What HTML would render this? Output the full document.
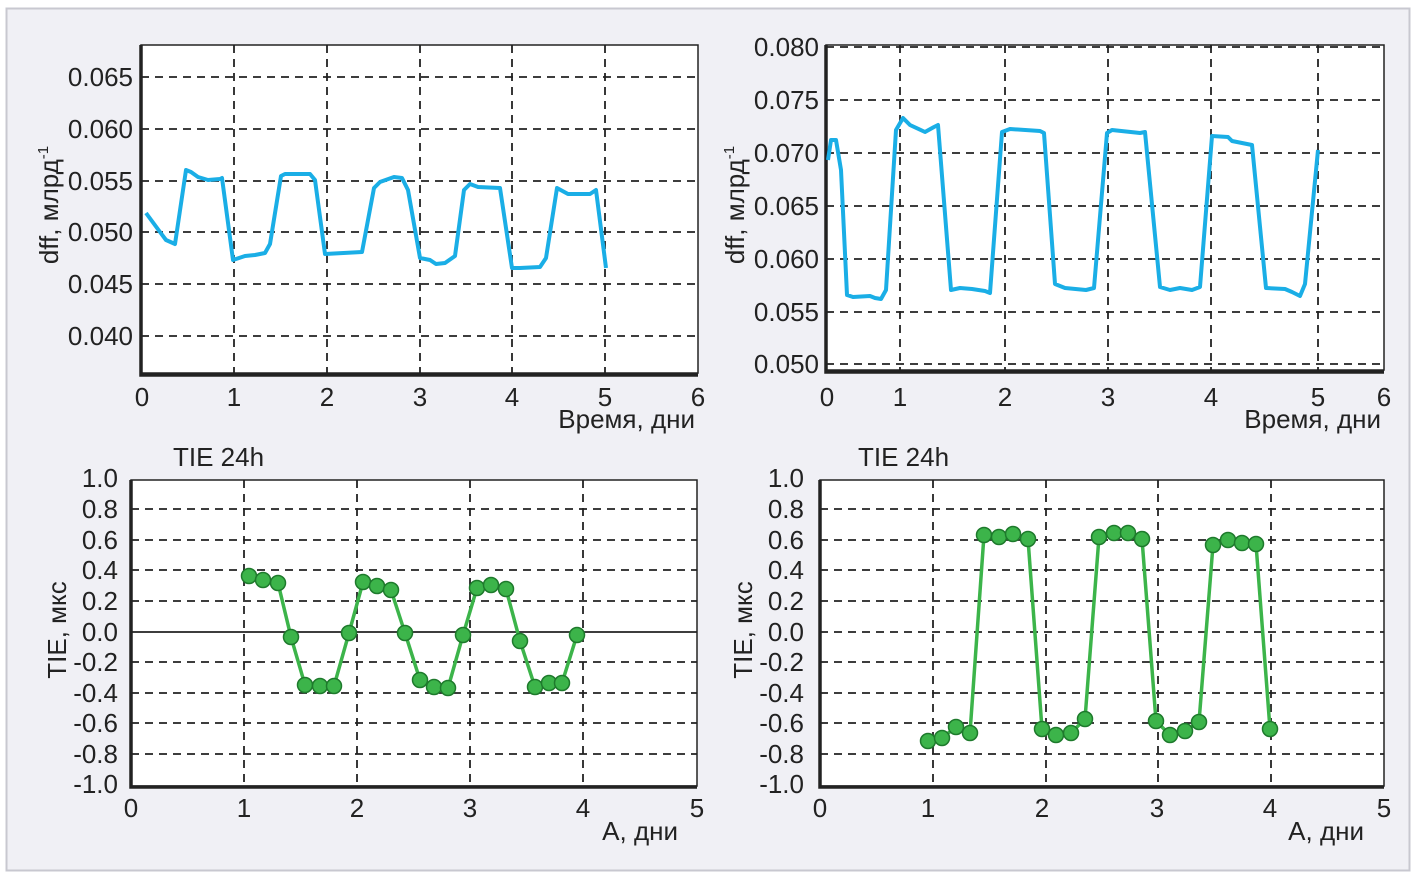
<!DOCTYPE html>
<html><head><meta charset="utf-8"><style>
html,body{margin:0;padding:0;background:#fff;}
svg{display:block;}
text{font-family:"Liberation Sans Narrow","Liberation Sans",sans-serif;fill:#222;}
</style></head><body>
<svg width="1416" height="877" viewBox="0 0 1416 877" xmlns="http://www.w3.org/2000/svg">
<rect x="0" y="0" width="1416" height="877" fill="#fff"/>
<rect x="6.5" y="8.5" width="1403" height="862" fill="#f0f0f5" stroke="#c8c8d0" stroke-width="2"/>
<g font-size="26">
<!-- TL -->
<rect x="141" y="45" width="557" height="328" fill="#fff" stroke="#222" stroke-width="1.5"/>
<g stroke="#222" stroke-width="1.8" stroke-dasharray="8,6" fill="none">
<path d="M141 77H698M141 129H698M141 181H698M141 232H698M141 284H698M141 336H698"/>
<path d="M234 45V373M327 45V373M420 45V373M512 45V373M605 45V373"/>
</g>
<path d="M141 45V375H698" stroke="#222" stroke-width="3.5" fill="none"/>
<polyline fill="none" stroke="#1aaee6" stroke-width="4" stroke-linejoin="round" points="146,213 160,232 166,240 175,244 186,170 191,172 198,177 208,180 220,179 222,178 233,260 245,256 255,255 265,253 270,244 281,176 285,174 310,174 315,180 325,254 362,252 374,188 380,182 394,177 402,178 408,190 420,258 430,260 436,264 445,263 455,256 464,190 470,184 478,187 500,188 512,268 520,268 540,267 546,258 557,188 568,194 590,194 596,190 606,268"/>
<g text-anchor="end">
<text x="133" y="86">0.065</text><text x="133" y="138">0.060</text><text x="133" y="190">0.055</text><text x="133" y="241">0.050</text><text x="133" y="293">0.045</text><text x="133" y="345">0.040</text>
</g>
<g text-anchor="middle">
<text x="142" y="406">0</text><text x="234" y="406">1</text><text x="327" y="406">2</text><text x="420" y="406">3</text><text x="512" y="406">4</text><text x="605" y="406">5</text><text x="698" y="406">6</text>
</g>
<text x="695" y="428" text-anchor="end">Время, дни</text>
<text transform="translate(58,205) rotate(-90)" text-anchor="middle">dff, млрд<tspan font-size="15" dy="-10">-1</tspan></text>

<!-- TR -->
<rect x="826" y="45" width="558" height="325" fill="#fff" stroke="#222" stroke-width="1.5"/>
<g stroke="#222" stroke-width="1.8" stroke-dasharray="8,6" fill="none">
<path d="M826 47H1384M826 100H1384M826 153H1384M826 206H1384M826 259H1384M826 312H1384M826 364H1384"/>
<path d="M900 45V370M1005 45V370M1108 45V370M1211 45V370M1318 45V370"/>
</g>
<path d="M826 45V372H1384" stroke="#222" stroke-width="3.5" fill="none"/>
<polyline fill="none" stroke="#1aaee6" stroke-width="4" stroke-linejoin="round" points="828,160 831,140 836,140 841,170 847,295 853,297 870,296 875,298 881,299 886,290 896,130 903,118 910,125 925,132 934,127 938,125 951,290 960,288 972,289 985,291 990,293 1002,132 1010,129 1040,131 1044,133 1055,284 1065,288 1086,290 1094,288 1107,133 1112,130 1140,133 1145,132 1160,287 1170,290 1180,288 1192,290 1200,287 1212,136 1228,137 1232,141 1252,145 1266,288 1285,289 1292,292 1300,296 1305,284 1318,150"/>
<g text-anchor="end">
<text x="819" y="56">0.080</text><text x="819" y="109">0.075</text><text x="819" y="162">0.070</text><text x="819" y="215">0.065</text><text x="819" y="268">0.060</text><text x="819" y="321">0.055</text><text x="819" y="373">0.050</text>
</g>
<g text-anchor="middle">
<text x="827" y="406">0</text><text x="900" y="406">1</text><text x="1005" y="406">2</text><text x="1108" y="406">3</text><text x="1211" y="406">4</text><text x="1318" y="406">5</text><text x="1384" y="406">6</text>
</g>
<text x="1381" y="428" text-anchor="end">Время, дни</text>
<text transform="translate(744,205) rotate(-90)" text-anchor="middle">dff, млрд<tspan font-size="15" dy="-10">-1</tspan></text>

<!-- BL -->
<text x="173" y="466">TIE 24h</text>
<rect x="131" y="480" width="566" height="306" fill="#fff" stroke="#222" stroke-width="1.5"/>
<g stroke="#222" stroke-width="1.8" stroke-dasharray="8,6" fill="none">
<path d="M131 509H697M131 540H697M131 570H697M131 601H697M131 662H697M131 693H697M131 723H697M131 754H697"/>
<path d="M244 480V786M357 480V786M470 480V786M583 480V786"/>
</g>
<path d="M131 632H697" stroke="#222" stroke-width="1.8"/>
<path d="M131 480V787H697" stroke="#222" stroke-width="3.5" fill="none"/>
<g fill="#3cb44a" stroke="#1e7a2c" stroke-width="1.5">
<polyline fill="none" stroke="#3cb44a" stroke-width="3.5" points="249,576 263,580 278,583 291,637 305,685 320,686 334,686 349,633 363,582 377,586 391,590 405,633 420,680 434,687 448,688 463,635 477,588 491,585 506,589 520,641 535,687 549,683 562,683 577,635"/>
<circle cx="249" cy="576" r="7.5"/><circle cx="263" cy="580" r="7.5"/><circle cx="278" cy="583" r="7.5"/><circle cx="291" cy="637" r="7.5"/><circle cx="305" cy="685" r="7.5"/><circle cx="320" cy="686" r="7.5"/><circle cx="334" cy="686" r="7.5"/><circle cx="349" cy="633" r="7.5"/><circle cx="363" cy="582" r="7.5"/><circle cx="377" cy="586" r="7.5"/><circle cx="391" cy="590" r="7.5"/><circle cx="405" cy="633" r="7.5"/><circle cx="420" cy="680" r="7.5"/><circle cx="434" cy="687" r="7.5"/><circle cx="448" cy="688" r="7.5"/><circle cx="463" cy="635" r="7.5"/><circle cx="477" cy="588" r="7.5"/><circle cx="491" cy="585" r="7.5"/><circle cx="506" cy="589" r="7.5"/><circle cx="520" cy="641" r="7.5"/><circle cx="535" cy="687" r="7.5"/><circle cx="549" cy="683" r="7.5"/><circle cx="562" cy="683" r="7.5"/><circle cx="577" cy="635" r="7.5"/>
</g>
<g text-anchor="end">
<text x="118" y="487">1.0</text><text x="118" y="518">0.8</text><text x="118" y="549">0.6</text><text x="118" y="579">0.4</text><text x="118" y="610">0.2</text><text x="118" y="641">0.0</text><text x="118" y="671">-0.2</text><text x="118" y="702">-0.4</text><text x="118" y="732">-0.6</text><text x="118" y="763">-0.8</text><text x="118" y="793">-1.0</text>
</g>
<g text-anchor="middle">
<text x="131" y="817">0</text><text x="244" y="817">1</text><text x="357" y="817">2</text><text x="470" y="817">3</text><text x="583" y="817">4</text><text x="697" y="817">5</text>
</g>
<text x="678" y="840" text-anchor="end">А, дни</text>
<text transform="translate(66,630) rotate(-90)" text-anchor="middle">TIE, мкс</text>

<!-- BR -->
<text x="858" y="466">TIE 24h</text>
<rect x="820" y="480" width="564" height="306" fill="#fff" stroke="#222" stroke-width="1.5"/>
<g stroke="#222" stroke-width="1.8" stroke-dasharray="8,6" fill="none">
<path d="M820 509H1384M820 540H1384M820 570H1384M820 601H1384M820 632H1384M820 662H1384M820 693H1384M820 723H1384M820 754H1384"/>
<path d="M933 480V786M1046 480V786M1158 480V786M1271 480V786"/>
</g>
<path d="M820 480V787H1384" stroke="#222" stroke-width="3.5" fill="none"/>
<g fill="#3cb44a" stroke="#1e7a2c" stroke-width="1.5">
<polyline fill="none" stroke="#3cb44a" stroke-width="3.5" points="928,741 942,738 956,727 970,733 984,535 999,537 1013,534 1028,539 1042,729 1056,735 1071,733 1085,719 1099,537 1114,533 1128,533 1142,539 1156,721 1170,735 1185,731 1199,722 1213,545 1228,540 1242,543 1256,544 1270,729"/>
<circle cx="928" cy="741" r="7.5"/><circle cx="942" cy="738" r="7.5"/><circle cx="956" cy="727" r="7.5"/><circle cx="970" cy="733" r="7.5"/><circle cx="984" cy="535" r="7.5"/><circle cx="999" cy="537" r="7.5"/><circle cx="1013" cy="534" r="7.5"/><circle cx="1028" cy="539" r="7.5"/><circle cx="1042" cy="729" r="7.5"/><circle cx="1056" cy="735" r="7.5"/><circle cx="1071" cy="733" r="7.5"/><circle cx="1085" cy="719" r="7.5"/><circle cx="1099" cy="537" r="7.5"/><circle cx="1114" cy="533" r="7.5"/><circle cx="1128" cy="533" r="7.5"/><circle cx="1142" cy="539" r="7.5"/><circle cx="1156" cy="721" r="7.5"/><circle cx="1170" cy="735" r="7.5"/><circle cx="1185" cy="731" r="7.5"/><circle cx="1199" cy="722" r="7.5"/><circle cx="1213" cy="545" r="7.5"/><circle cx="1228" cy="540" r="7.5"/><circle cx="1242" cy="543" r="7.5"/><circle cx="1256" cy="544" r="7.5"/><circle cx="1270" cy="729" r="7.5"/>
</g>
<g text-anchor="end">
<text x="804" y="487">1.0</text><text x="804" y="518">0.8</text><text x="804" y="549">0.6</text><text x="804" y="579">0.4</text><text x="804" y="610">0.2</text><text x="804" y="641">0.0</text><text x="804" y="671">-0.2</text><text x="804" y="702">-0.4</text><text x="804" y="732">-0.6</text><text x="804" y="763">-0.8</text><text x="804" y="793">-1.0</text>
</g>
<g text-anchor="middle">
<text x="820" y="817">0</text><text x="928" y="817">1</text><text x="1042" y="817">2</text><text x="1157" y="817">3</text><text x="1270" y="817">4</text><text x="1384" y="817">5</text>
</g>
<text x="1364" y="840" text-anchor="end">А, дни</text>
<text transform="translate(752,630) rotate(-90)" text-anchor="middle">TIE, мкс</text>
</g>
</svg>
</body></html>
